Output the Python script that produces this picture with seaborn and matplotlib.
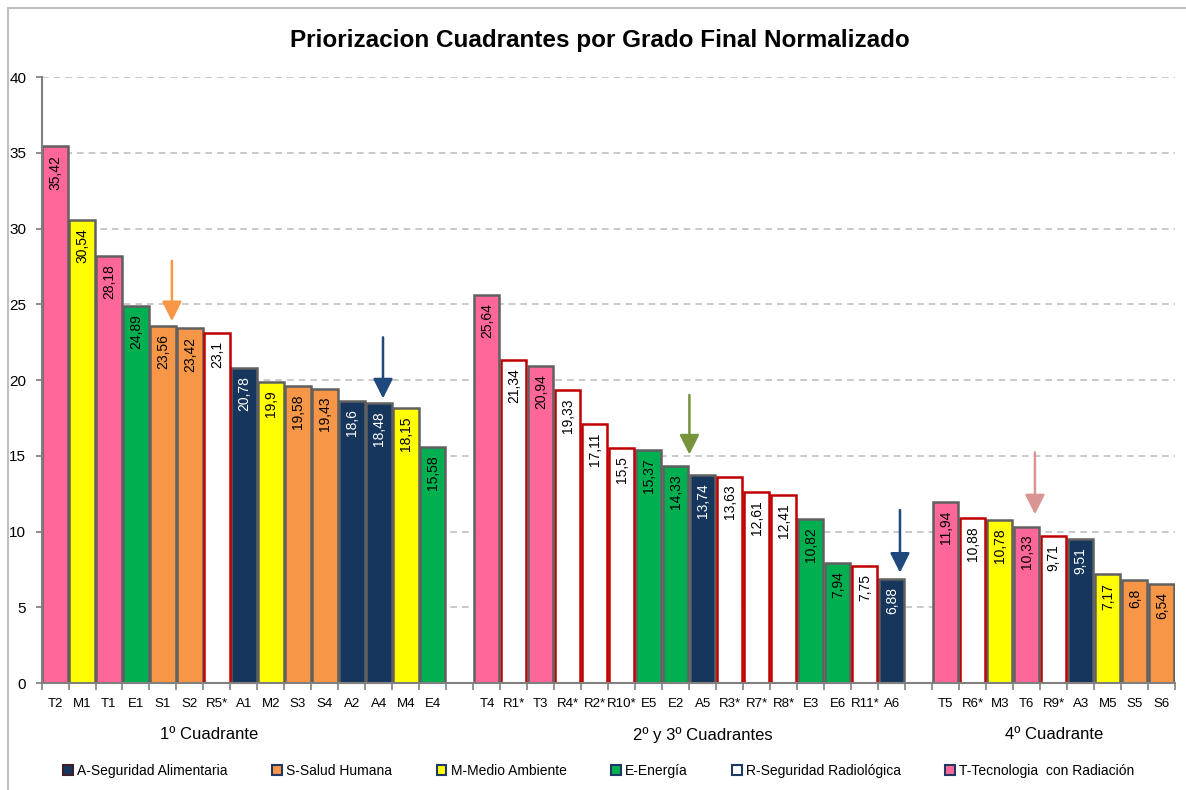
import matplotlib
matplotlib.use("Agg")
import matplotlib.pyplot as plt
from matplotlib.patches import Patch
from matplotlib.lines import Line2D
import seaborn as sns
import pandas as pd
import numpy as np

# ---------------- data ----------------
cuad1_labels = ["T2", "M1", "T1", "E1", "S1", "S2", "R5*", "A1", "M2", "S3", "S4", "A2", "A4", "M4", "E4"]
cuad1_values = [35.42, 30.54, 28.18, 24.89, 23.56, 23.42, 23.1, 20.78, 19.9, 19.58, 19.43, 18.6, 18.48, 18.15, 15.58]

cuad23_labels = ["T4", "R1*", "T3", "R4*", "R2*", "R10*", "E5", "E2", "A5", "R3*", "R7*", "R8*", "E3", "E6", "R11*", "A6"]
cuad23_values = [25.64, 21.34, 20.94, 19.33, 17.11, 15.5, 15.37, 14.33, 13.74, 13.63, 12.61, 12.41, 10.82, 7.94, 7.75, 6.88]

cuad4_labels = ["T5", "R6*", "M3", "T6", "R9*", "A3", "M5", "S5", "S6"]
cuad4_values = [11.94, 10.88, 10.78, 10.33, 9.71, 9.51, 7.17, 6.8, 6.54]

group_titles = ["1º Cuadrante", "2º y 3º Cuadrantes", "4º Cuadrante"]

area_codes = ["A", "S", "M", "E", "R", "T"]
area_names = ["A-Seguridad Alimentaria", "S-Salud Humana", "M-Medio Ambiente",
              "E-Energía", "R-Seguridad Radiológica", "T-Tecnologia  con Radiación"]
area_colors = ["#17365d", "#f79646", "#ffff00", "#00b050", "#ffffff", "#ff6699"]

title = "Priorizacion Cuadrantes por Grado Final Normalizado"

# ---------------- build frame ----------------
gap1, gap2 = " ", "  "
order = cuad1_labels + [gap1] + cuad23_labels + [gap2] + cuad4_labels
labels = cuad1_labels + cuad23_labels + cuad4_labels
values = cuad1_values + cuad23_values + cuad4_values
df = pd.DataFrame({"proyecto": labels, "grado": values})
df["area"] = df["proyecto"].str[0]
palette = dict(zip(area_codes, area_colors))

sns.set_theme(style="white")
plt.rcParams["font.family"] = ["Liberation Sans", "DejaVu Sans"]
plt.rcParams["text.color"] = "black"
plt.rcParams["xtick.color"] = "black"
plt.rcParams["ytick.color"] = "black"
plt.rcParams["axes.labelcolor"] = "black"

fig = plt.figure(figsize=(11.86, 7.9), dpi=100)
ax = fig.add_axes([0.035, 0.1354, 0.956, 0.7671])

sns.barplot(data=df, x="proyecto", y="grado", hue="area", order=order,
            hue_order=area_codes, palette=palette, dodge=False, width=0.93,
            legend=False, ax=ax, saturation=1)

val_map = dict(zip(labels, values))
for p in ax.patches:
    h = p.get_height()
    if not np.isfinite(h) or h <= 0:
        continue
    idx = int(round(p.get_x() + p.get_width() / 2))
    name = order[idx]
    code = name[0]
    p.set_edgecolor("#c00000" if code == "R" else "#606060")
    p.set_linewidth(1.8)
    txt = f"{val_map[name]:g}".replace(".", ",")
    ax.annotate(txt, (idx, h), xytext=(0, -6), textcoords="offset points",
                rotation=90, ha="center", va="top", fontsize=10,
                color="white" if code == "A" else "black")

ax.set_xlim(-0.5, len(order) - 0.5)
ax.set_ylim(0, 40)
ax.set_yticks(np.arange(0, 41, 5))
ax.tick_params(axis="y", labelsize=11, length=4, color="#808080", labelcolor="black",
               direction="out", left=True, pad=7)
ax.set_xticks(range(len(order)))
ax.set_xticklabels([o.strip() for o in order], fontsize=9.5)
ax.tick_params(axis="x", which="major", length=0, pad=11, labelcolor="black")
ax.set_xticks(np.arange(-0.5, len(order), 1), minor=True)
ax.tick_params(axis="x", which="minor", length=5, color="#808080", width=1.2, bottom=True)
ax.set_xlabel("")
ax.set_ylabel("")
ax.yaxis.grid(True, linestyle=(0, (4, 3)), color="#c0c0c0", linewidth=1.2)
ax.set_axisbelow(True)
for s in ["top", "right"]:
    ax.spines[s].set_visible(False)
for s in ["left", "bottom"]:
    ax.spines[s].set_color("#808080")
    ax.spines[s].set_linewidth(1.5)

# group titles
for xpos, t in zip([5.7, 24.0, 37.0], group_titles):
    ax.text(xpos, -0.072, t, transform=ax.get_xaxis_transform(), ha="center", va="top",
            fontsize=12, color="black")

# arrows
arrows = [(4.33, 28.05, 23.7, "#f79646"), (12.15, 23.0, 18.6, "#1f497d"),
          (23.5, 19.2, 14.9, "#77933c"), (31.3, 11.6, 7.1, "#1f497d"),
          (36.3, 15.4, 10.95, "#d99594")]
for x, y0, y1, c in arrows:
    ax.annotate("", xy=(x, y1), xytext=(x, y0),
                arrowprops=dict(arrowstyle="-|>,head_length=1.0,head_width=0.5", color=c, lw=1.8))

# title
fig.text(0.506, 0.949, title, ha="center", va="center", fontsize=17.5, fontweight="bold",
         color="black", family=["Liberation Sans Narrow", "Liberation Sans", "DejaVu Sans"])

# frame lines
fig.add_artist(Line2D([8 / 1186, 1], [1 - 8 / 790, 1 - 8 / 790], color="#bfbfbf", lw=1.5))
fig.add_artist(Line2D([8 / 1186, 8 / 1186], [0, 1 - 8 / 790], color="#bfbfbf", lw=1.5))

# legend
handles = [Patch(facecolor=c, edgecolor=("#3a1f2a" if a == "A" else "#1f3864"), linewidth=1.5)
           for a, c in zip(area_codes, area_colors)]
fig.legend(handles, area_names, loc="center", bbox_to_anchor=(0.505, 0.024), ncol=6,
           frameon=False, fontsize=10, handlelength=0.7, handleheight=0.7,
           handletextpad=0.3, columnspacing=3.2, labelcolor="black")

fig.savefig("out.png", dpi=100)
